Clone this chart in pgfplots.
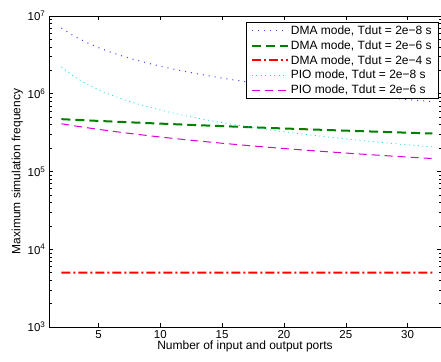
\documentclass[border=0pt]{standalone}
\usepackage{pgfplots}
\pgfplotsset{compat=1.18}
\usepackage{fontspec}
\setmainfont{Liberation Sans}
\definecolor{mblue}{rgb}{0.25,0.25,1}
\definecolor{mgreen}{rgb}{0,0.5,0}
\definecolor{mcyan}{rgb}{0,0.85,0.85}
\definecolor{mmag}{rgb}{0.85,0,0.85}
\begin{document}
\begin{tikzpicture}
\begin{axis}[
  scale only axis,
  width=392pt, height=311pt,
  xmin=1, xmax=32.7,
  ymode=log, ymin=1e3, ymax=1e7,
  xtick={5,10,15,20,25,30},
  ytick={1e3,1e4,1e5,1e6,1e7},
  yticklabels={10\textsuperscript{3},10\textsuperscript{4},10\textsuperscript{5},10\textsuperscript{6},10\textsuperscript{7}},
  tick align=inside,
  major tick length=4pt, minor tick length=2.5pt,
  tick style={black, line width=0.5pt},
  axis line style={line width=0.8pt},
  /pgf/number format/assume math mode=true,
  ticklabel style={font=\fontsize{11.5}{12}\selectfont},
  xlabel={Number of input and output ports},
  ylabel={Maximum simulation frequency},
  label style={font=\fontsize{12}{13}\selectfont},
  xlabel style={yshift=5pt},
  ylabel style={yshift=-2pt},
  legend cell align=left,
  legend style={at={(rel axis cs:0.995,0.981)}, anchor=north east,
    font=\fontsize{12}{13}\selectfont, draw=black, line width=0.8pt,
    inner xsep=5pt, inner ysep=1.5pt, row sep=0.6pt},
  legend image code/.code={\draw[#1] (0pt,0pt) -- (36pt,0pt);},
]
\addplot[mblue, line width=1pt, dash pattern=on 1pt off 5pt] coordinates {
(2,7.003e6)(3,5.549e6)(4,4.596e6)(5,3.922e6)(6,3.420e6)(7,3.032e6)(8,2.723e6)(9,2.472e6)(10,2.262e6)(11,2.086e6)(12,1.935e6)(13,1.804e6)(14,1.690e6)(15,1.590e6)(16,1.501e6)(17,1.421e6)(18,1.349e6)(19,1.284e6)(20,1.225e6)(21,1.172e6)(22,1.123e6)(23,1.077e6)(24,1.036e6)(25,9.970e5)(26,9.612e5)(27,9.278e5)(28,8.967e5)(29,8.676e5)(30,8.403e5)(31,8.147e5)(32,7.906e5)};
\addlegendentry{DMA mode, Tdut = 2e\textminus8 s}
\addplot[mgreen, line width=2pt, dash pattern=on 9pt off 5pt] coordinates {
(2,4.711e5)(3,4.629e5)(4,4.550e5)(5,4.474e5)(6,4.401e5)(7,4.329e5)(8,4.260e5)(9,4.194e5)(10,4.129e5)(11,4.066e5)(12,4.005e5)(13,3.946e5)(14,3.889e5)(15,3.833e5)(16,3.779e5)(17,3.726e5)(18,3.675e5)(19,3.625e5)(20,3.577e5)(21,3.529e5)(22,3.483e5)(23,3.439e5)(24,3.395e5)(25,3.352e5)(26,3.311e5)(27,3.270e5)(28,3.231e5)(29,3.192e5)(30,3.155e5)(31,3.118e5)(32,3.082e5)};
\addlegendentry{DMA mode, Tdut = 2e\textminus6 s}
\addplot[red, line width=2pt, dash pattern=on 9pt off 3pt on 2pt off 3pt] coordinates {
(2,4996)(12,4994)(22,4992)(32,4990)};
\addlegendentry{DMA mode, Tdut = 2e\textminus4 s}
\addplot[mcyan, line width=0.7pt, dash pattern=on 1pt off 3.5pt] coordinates {
(2,2.212e6)(3,1.672e6)(4,1.344e6)(5,1.124e6)(6,9.653e5)(7,8.460e5)(8,7.530e5)(9,6.784e5)(10,6.173e5)(11,5.663e5)(12,5.230e5)(13,4.859e5)(14,4.537e5)(15,4.255e5)(16,4.006e5)(17,3.785e5)(18,3.587e5)(19,3.408e5)(20,3.247e5)(21,3.100e5)(22,2.966e5)(23,2.843e5)(24,2.729e5)(25,2.625e5)(26,2.528e5)(27,2.438e5)(28,2.354e5)(29,2.276e5)(30,2.203e5)(31,2.134e5)(32,2.070e5)};
\addlegendentry{PIO mode, Tdut = 2e\textminus8 s}
\addplot[mmag, line width=1pt, dash pattern=on 8pt off 5pt] coordinates {
(2,4.112e5)(3,3.879e5)(4,3.671e5)(5,3.484e5)(6,3.316e5)(7,3.163e5)(8,3.023e5)(9,2.895e5)(10,2.778e5)(11,2.670e5)(12,2.569e5)(13,2.476e5)(14,2.390e5)(15,2.309e5)(16,2.234e5)(17,2.164e5)(18,2.097e5)(19,2.035e5)(20,1.976e5)(21,1.921e5)(22,1.868e5)(23,1.819e5)(24,1.772e5)(25,1.727e5)(26,1.685e5)(27,1.644e5)(28,1.606e5)(29,1.569e5)(30,1.534e5)(31,1.500e5)(32,1.468e5)};
\addlegendentry{PIO mode, Tdut = 2e\textminus6 s}
\end{axis}
\pgfresetboundingbox
\path[use as bounding box] ([xshift=-49pt,yshift=-34pt]current axis.south west) rectangle ([yshift=16pt]current axis.north east);
\end{tikzpicture}
\end{document}
